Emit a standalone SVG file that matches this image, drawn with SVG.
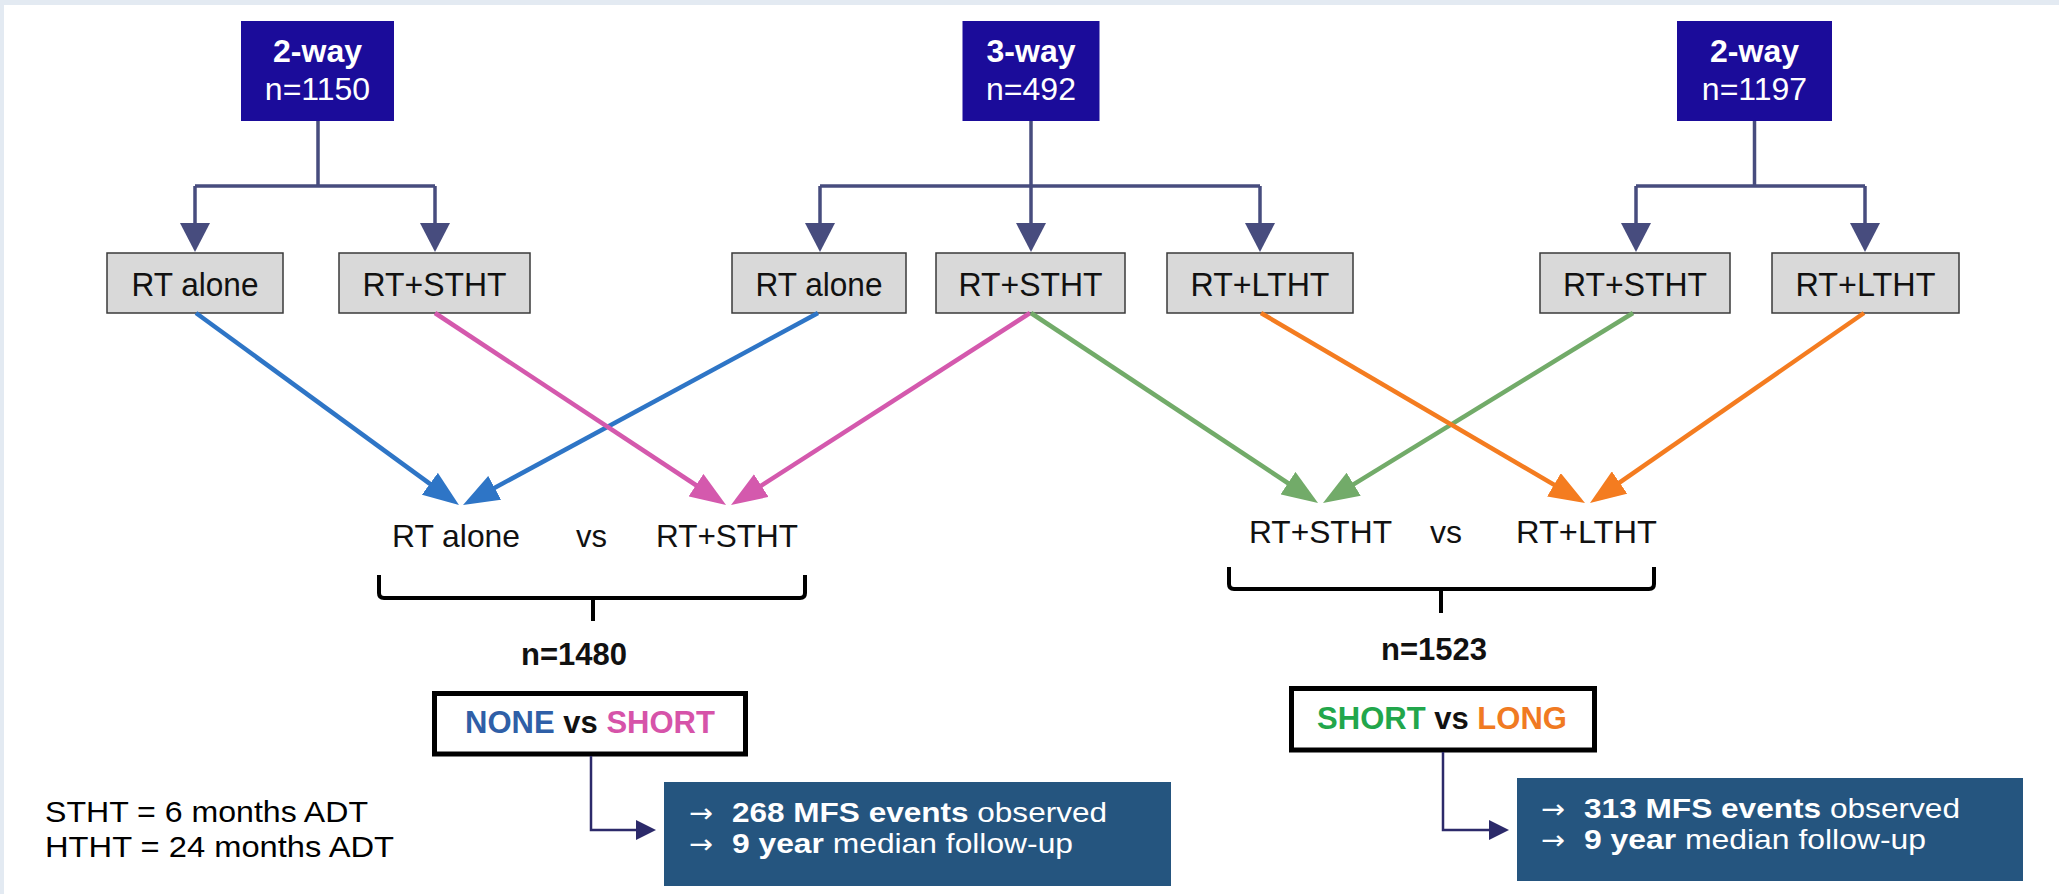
<svg xmlns="http://www.w3.org/2000/svg" width="2059" height="894" viewBox="0 0 2059 894">
  <style>
    text { font-family: "Liberation Sans", Arial, sans-serif; }
    .top rect { fill: #1b0c9a; }
    .top text { fill: #ffffff; font-size: 32px; text-anchor: middle; }
    .arm rect { fill: #d9d9d9; stroke: #3a3a3a; stroke-width: 1.5; }
    .arm text { fill: #111111; font-size: 34px; }
    .slate { fill: none; stroke: #474c7e; stroke-width: 3.5; }
    .diag { fill: none; stroke-width: 4.5; }
    .cmp { fill: #111111; font-size: 32px; }
    .brace { fill: none; stroke: #000000; stroke-width: 4; stroke-linejoin: round; }
    .nlab { fill: #111111; font-size: 31px; font-weight: bold; text-anchor: middle; }
    .vsbox rect { fill: #ffffff; stroke: #000000; stroke-width: 5; }
    .vsbox text { font-size: 31px; font-weight: bold; }
    .thin { fill: none; stroke: #2c2a6a; stroke-width: 2.5; }
    .mfs rect { fill: #25557f; }
    .mfs text { fill: #ffffff; font-size: 27.5px; }
    .mfs text.arr { font-family: "DejaVu Sans", sans-serif; font-size: 26.5px; }
    .legend { fill: #000000; font-size: 30px; }
  </style>
  <defs>
    <marker id="mSlate" markerUnits="userSpaceOnUse" markerWidth="29" markerHeight="30" refX="21" refY="15" orient="auto">
      <path d="M0,0 L29,15 L0,30 Z" fill="#474c7e"/>
    </marker>
    <marker id="mBlue" markerUnits="userSpaceOnUse" markerWidth="36" markerHeight="27" refX="26" refY="13.5" orient="auto">
      <path d="M0,0 L36,13.5 L0,27 Z" fill="#2e75c6"/>
    </marker>
    <marker id="mPink" markerUnits="userSpaceOnUse" markerWidth="36" markerHeight="27" refX="26" refY="13.5" orient="auto">
      <path d="M0,0 L36,13.5 L0,27 Z" fill="#d459ad"/>
    </marker>
    <marker id="mGreen" markerUnits="userSpaceOnUse" markerWidth="36" markerHeight="27" refX="26" refY="13.5" orient="auto">
      <path d="M0,0 L36,13.5 L0,27 Z" fill="#72ab69"/>
    </marker>
    <marker id="mOrange" markerUnits="userSpaceOnUse" markerWidth="36" markerHeight="27" refX="26" refY="13.5" orient="auto">
      <path d="M0,0 L36,13.5 L0,27 Z" fill="#f47c20"/>
    </marker>
    <marker id="mNavy" markerUnits="userSpaceOnUse" markerWidth="20" markerHeight="20" refX="14" refY="10" orient="auto">
      <path d="M0,0 L20,10 L0,20 Z" fill="#2c2a6a"/>
    </marker>
  </defs>

  <rect x="0" y="0" width="2059" height="894" fill="#e3eaf2"/>
  <rect x="4" y="5" width="2055" height="889" fill="#ffffff"/>

  <!-- Top nodes -->
  <g id="top-2way-left" class="top">
    <rect x="241" y="21" width="153" height="100"/>
    <text x="317.5" y="62" font-weight="bold">2-way</text>
    <text x="317.5" y="100">n=1150</text>
  </g>
  <g id="top-3way" class="top">
    <rect x="962.5" y="21" width="137" height="100"/>
    <text x="1031" y="62" font-weight="bold">3-way</text>
    <text x="1031" y="100">n=492</text>
  </g>
  <g id="top-2way-right" class="top">
    <rect x="1677" y="21" width="155" height="100"/>
    <text x="1754.5" y="62" font-weight="bold">2-way</text>
    <text x="1754.5" y="100">n=1197</text>
  </g>

  <!-- Arm nodes -->
  <g id="arm-a1" class="arm">
    <rect x="107" y="253" width="176" height="60"/>
    <text x="131.5" y="296" textLength="127" lengthAdjust="spacingAndGlyphs">RT alone</text>
  </g>
  <g id="arm-a2" class="arm">
    <rect x="339" y="253" width="191" height="60"/>
    <text x="362.5" y="296" textLength="144" lengthAdjust="spacingAndGlyphs">RT+STHT</text>
  </g>
  <g id="arm-b1" class="arm">
    <rect x="732" y="253" width="174" height="60"/>
    <text x="755.5" y="296" textLength="127" lengthAdjust="spacingAndGlyphs">RT alone</text>
  </g>
  <g id="arm-b2" class="arm">
    <rect x="936" y="253" width="189" height="60"/>
    <text x="958.5" y="296" textLength="144" lengthAdjust="spacingAndGlyphs">RT+STHT</text>
  </g>
  <g id="arm-b3" class="arm">
    <rect x="1167" y="253" width="186" height="60"/>
    <text x="1190.5" y="296" textLength="139" lengthAdjust="spacingAndGlyphs">RT+LTHT</text>
  </g>
  <g id="arm-c1" class="arm">
    <rect x="1540" y="253" width="190" height="60"/>
    <text x="1563" y="296" textLength="144" lengthAdjust="spacingAndGlyphs">RT+STHT</text>
  </g>
  <g id="arm-c2" class="arm">
    <rect x="1772" y="253" width="187" height="60"/>
    <text x="1795.5" y="296" textLength="140" lengthAdjust="spacingAndGlyphs">RT+LTHT</text>
  </g>

  <!-- Comparison labels -->
  <g id="cmp-left">
    <text class="cmp" x="392" y="547" textLength="128" lengthAdjust="spacingAndGlyphs">RT alone</text>
    <text class="cmp" x="576" y="547" textLength="31" lengthAdjust="spacingAndGlyphs">vs</text>
    <text class="cmp" x="656" y="547" textLength="142" lengthAdjust="spacingAndGlyphs">RT+STHT</text>
    <path class="brace" d="M379,575 V593 Q379,598 384,598 H800 Q805,598 805,593 V575 M593,598 V621"/>
    <text class="nlab" x="574" y="665">n=1480</text>
  </g>
  <g id="cmp-right">
    <text class="cmp" x="1249" y="543" textLength="143" lengthAdjust="spacingAndGlyphs">RT+STHT</text>
    <text class="cmp" x="1430" y="543" textLength="32" lengthAdjust="spacingAndGlyphs">vs</text>
    <text class="cmp" x="1516" y="543" textLength="141" lengthAdjust="spacingAndGlyphs">RT+LTHT</text>
    <path class="brace" d="M1229,567 V584 Q1229,589 1234,589 H1649 Q1654,589 1654,584 V567 M1441,589 V613"/>
    <text class="nlab" x="1434" y="660">n=1523</text>
  </g>

  <g id="none-vs-short" class="vsbox">
    <rect x="434.5" y="693.5" width="311" height="60.5"/>
    <text x="590" y="733" text-anchor="middle"><tspan fill="#2f5fa7">NONE</tspan><tspan fill="#111111"> vs </tspan><tspan fill="#d653a9">SHORT</tspan></text>
  </g>
  <g id="short-vs-long" class="vsbox">
    <rect x="1291.5" y="688.5" width="303" height="61.5"/>
    <text x="1442" y="729" text-anchor="middle"><tspan fill="#22a64b">SHORT</tspan><tspan fill="#111111"> vs </tspan><tspan fill="#f07a22">LONG</tspan></text>
  </g>

  <g id="mfs-left" class="mfs">
    <rect x="664" y="782" width="507" height="104"/>
    <text class="arr" x="689" y="822" textLength="24" lengthAdjust="spacingAndGlyphs">→</text>
    <text x="732" y="822" textLength="375" lengthAdjust="spacingAndGlyphs"><tspan font-weight="bold">268 MFS events</tspan> observed</text>
    <text class="arr" x="689" y="853" textLength="24" lengthAdjust="spacingAndGlyphs">→</text>
    <text x="732" y="853" textLength="341" lengthAdjust="spacingAndGlyphs"><tspan font-weight="bold">9 year</tspan> median follow-up</text>
  </g>
  <g id="mfs-right" class="mfs">
    <rect x="1517" y="778" width="506" height="103"/>
    <text class="arr" x="1541" y="818" textLength="24" lengthAdjust="spacingAndGlyphs">→</text>
    <text x="1584" y="818" textLength="376" lengthAdjust="spacingAndGlyphs"><tspan font-weight="bold">313 MFS events</tspan> observed</text>
    <text class="arr" x="1541" y="849" textLength="24" lengthAdjust="spacingAndGlyphs">→</text>
    <text x="1584" y="849" textLength="342" lengthAdjust="spacingAndGlyphs"><tspan font-weight="bold">9 year</tspan> median follow-up</text>
  </g>

  <g id="legend">
    <text class="legend" x="45" y="822" textLength="323" lengthAdjust="spacingAndGlyphs">STHT = 6 months ADT</text>
    <text class="legend" x="45" y="857" textLength="349" lengthAdjust="spacingAndGlyphs">HTHT = 24 months ADT</text>
  </g>

  <!-- Connectors -->
  <g id="connectors">
    <path class="slate" d="M318,121 V186 M195,186 H435"/>
    <path class="slate" d="M195,186 V244" marker-end="url(#mSlate)"/>
    <path class="slate" d="M435,186 V244" marker-end="url(#mSlate)"/>

    <path class="slate" d="M820,186 H1260"/>
    <path class="slate" d="M1031,121 V244" marker-end="url(#mSlate)"/>
    <path class="slate" d="M820,186 V244" marker-end="url(#mSlate)"/>
    <path class="slate" d="M1260,186 V244" marker-end="url(#mSlate)"/>

    <path class="slate" d="M1754.5,121 V186 M1636,186 H1865"/>
    <path class="slate" d="M1636,186 V244" marker-end="url(#mSlate)"/>
    <path class="slate" d="M1865,186 V244" marker-end="url(#mSlate)"/>

    <path class="diag" stroke="#2e75c6" d="M196,313 L450.9,499.1" marker-end="url(#mBlue)"/>
    <path class="diag" stroke="#2e75c6" d="M818,313 L471.8,500.2" marker-end="url(#mBlue)"/>
    <path class="diag" stroke="#d459ad" d="M435,313 L717.7,499.5" marker-end="url(#mPink)"/>
    <path class="diag" stroke="#d459ad" d="M1030,313 L739.4,499.6" marker-end="url(#mPink)"/>
    <path class="diag" stroke="#72ab69" d="M1031,313 L1309.7,497.5" marker-end="url(#mGreen)"/>
    <path class="diag" stroke="#72ab69" d="M1633,313 L1331.5,497.8" marker-end="url(#mGreen)"/>
    <path class="diag" stroke="#f47c20" d="M1261,313 L1576.4,497.9" marker-end="url(#mOrange)"/>
    <path class="diag" stroke="#f47c20" d="M1864,313 L1598.2,497.3" marker-end="url(#mOrange)"/>

    <path class="thin" d="M591,756 V830 H650" marker-end="url(#mNavy)"/>
    <path class="thin" d="M1443,752 V830 H1503" marker-end="url(#mNavy)"/>
  </g>
</svg>
